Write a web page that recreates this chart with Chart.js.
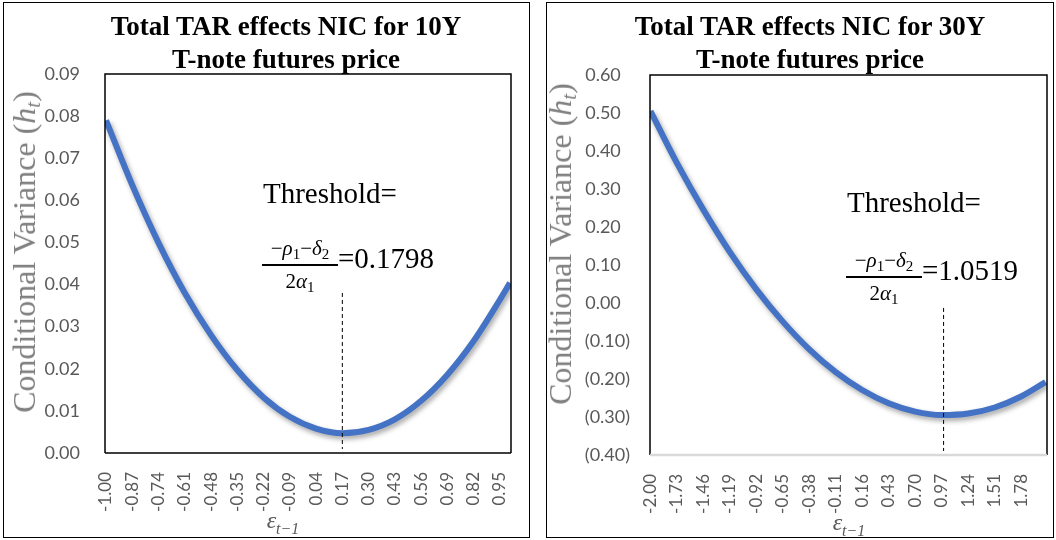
<!DOCTYPE html>
<html>
<head>
<meta charset="utf-8">
<script src="https://cdn.jsdelivr.net/npm/chart.js@4.4.1/dist/chart.umd.min.js"></script>
<style>
    body { margin: 0; width: 1056px; height: 540px; position: relative; background: #fff; overflow: hidden; }
    .panel { position: absolute; border: 1.5px solid #000; box-sizing: border-box; }
    canvas { position: absolute; top: 0; }
    .title { position: absolute; width: 500px; text-align: center; font: bold 27px "Liberation Serif", "Times New Roman", serif; line-height: 33px; color: #000; }
    .ytitle { position: absolute; transform: translate(-50%, -50%) rotate(-90deg); font: 32px "Liberation Serif", "Times New Roman", serif; color: #7f7f7f; white-space: nowrap; }
    .ytitle sub { font-size: 21px; vertical-align: -5px; }
    .xtitle { position: absolute; transform: translate(-50%, -50%); font: italic 24px "Liberation Serif", serif; color: #595959; white-space: nowrap; }
    .xtitle sub { font-size: 16px; vertical-align: -6px; }
    .note { position: absolute; font: 29px "Liberation Serif", serif; line-height: 29px; color: #000; white-space: nowrap; }
    .frac { position: absolute; width: 76px; font: 21px "Liberation Serif", serif; color: #000; text-align: center; white-space: nowrap; }
    .frac .num { line-height: 20px; border-bottom: 2px solid #000; }
    .frac .den { line-height: 30px; }
    .frac sub { font-size: 15px; vertical-align: -4px; }
</style>
</head>
<body>
<div class="panel" style="left:3px; top:2px; width:527px; height:536px;"></div>
<div class="panel" style="left:546px; top:2px; width:508px; height:536px;"></div>

<canvas id="chart10y" width="528" height="540" style="left:0;"></canvas>
<canvas id="chart30y" width="528" height="540" style="left:528px;"></canvas>

<div class="title" style="left:36px; top:10px;">Total TAR effects NIC for 10Y<br>T-note futures price</div>
<div class="title" style="left:560px; top:10px;">Total TAR effects NIC for 30Y<br>T-note futures price</div>

<div class="ytitle" style="left:26px; top:252px;">Conditional Variance (<i>h</i><sub><i>t</i></sub>)</div>
<div class="ytitle" style="left:562px; top:244px;">Conditional Variance (<i>h</i><sub><i>t</i></sub>)</div>

<div class="xtitle" style="left:283px; top:522px;">ε<sub>t−1</sub></div>
<div class="xtitle" style="left:849px; top:524px;">ε<sub>t−1</sub></div>

<div class="note" style="left:263px; top:179px;">Threshold=</div>
<div class="frac" style="left:262px; top:238px;"><div class="num">−<i>ρ</i><sub>1</sub>−<i>δ</i><sub>2</sub></div><div class="den">2<i>α</i><sub>1</sub></div></div>
<div class="note" style="left:338px; top:244px;">=0.1798</div>

<div class="note" style="left:847px; top:188px;">Threshold=</div>
<div class="frac" style="left:846px; top:250px;"><div class="num">−<i>ρ</i><sub>1</sub>−<i>δ</i><sub>2</sub></div><div class="den">2<i>α</i><sub>1</sub></div></div>
<div class="note" style="left:922px; top:256px;">=1.0519</div>

<script>
// 10Y panel: shock values and conditional variance
const shock10 = [-1.00, -0.87, -0.74, -0.61, -0.48, -0.35, -0.22, -0.09, 0.04, 0.17, 0.30, 0.43, 0.56, 0.69, 0.82, 0.95, 1.00];
const variance10 = [0.0790, 0.0636, 0.0499, 0.0380, 0.0280, 0.0197, 0.0132, 0.0086, 0.0058, 0.0047, 0.0055, 0.0080, 0.0124, 0.0186, 0.0266, 0.0364, 0.0404];
const xTicks10 = [-1.00, -0.87, -0.74, -0.61, -0.48, -0.35, -0.22, -0.09, 0.04, 0.17, 0.30, 0.43, 0.56, 0.69, 0.82, 0.95];
const yTicks10 = [0.00, 0.01, 0.02, 0.03, 0.04, 0.05, 0.06, 0.07, 0.08, 0.09];
const threshold10 = 0.17;
const dashTop10 = 0.038;

// 30Y panel
const shock30 = [-2.00, -1.73, -1.46, -1.19, -0.92, -0.65, -0.38, -0.11, 0.16, 0.43, 0.70, 0.97, 1.24, 1.51, 1.78, 2.03];
const variance30 = [0.505, 0.368, 0.245, 0.134, 0.036, -0.049, -0.122, -0.182, -0.229, -0.264, -0.286, -0.295, -0.291, -0.275, -0.246, -0.208];
const xTicks30 = [-2.00, -1.73, -1.46, -1.19, -0.92, -0.65, -0.38, -0.11, 0.16, 0.43, 0.70, 0.97, 1.24, 1.51, 1.78];
const yTicks30 = [-0.40, -0.30, -0.20, -0.10, 0.00, 0.10, 0.20, 0.30, 0.40, 0.50, 0.60];
const threshold30 = 0.99;
const dashTop30 = -0.013;

const plotFrame = {
    id: 'plotFrame',
    afterDraw(chart, args, opts) {
        const { ctx, chartArea: a } = chart;
        ctx.save();
        ctx.lineWidth = 1.5;
        ctx.strokeStyle = '#000';
        ctx.beginPath();
        ctx.moveTo(a.left, a.bottom);
        ctx.lineTo(a.left, a.top);
        ctx.lineTo(a.right, a.top);
        ctx.lineTo(a.right, a.bottom);
        ctx.stroke();
        ctx.strokeStyle = opts.bottomColor || '#000';
        ctx.lineWidth = opts.bottomWidth || 1.5;
        ctx.beginPath();
        ctx.moveTo(a.left, a.bottom);
        ctx.lineTo(a.right, a.bottom);
        ctx.stroke();
        ctx.restore();
    }
};

const thresholdLine = {
    id: 'thresholdLine',
    afterDatasetsDraw(chart, args, opts) {
        const { ctx, scales } = chart;
        const x = scales.x.getPixelForValue(opts.value);
        ctx.save();
        ctx.strokeStyle = '#000';
        ctx.lineWidth = 1;
        ctx.setLineDash([4, 3]);
        ctx.beginPath();
        ctx.moveTo(x, scales.y.getPixelForValue(opts.top));
        ctx.lineTo(x, chart.chartArea.bottom - 4);
        ctx.stroke();
        ctx.restore();
    }
};

const lineShadow = {
    id: 'lineShadow',
    beforeDatasetsDraw(chart) {
        const ctx = chart.ctx;
        ctx.save();
        ctx.shadowColor = 'rgba(0, 0, 0, 0.35)';
        ctx.shadowBlur = 5;
        ctx.shadowOffsetX = 2;
        ctx.shadowOffsetY = 3;
    },
    afterDatasetsDraw(chart) {
        chart.ctx.restore();
    }
};

function fmtParen(v) {
    if (Math.abs(v) < 1e-9) return '0.00  ';
    return v < 0 ? '(' + Math.abs(v).toFixed(2) + ')' : v.toFixed(2) + '  ';
}

function makeChart(id, cfg) {
    return new Chart(document.getElementById(id), {
        type: 'line',
        data: {
            datasets: [{
                data: cfg.xs.map((x, i) => ({ x: x, y: cfg.ys[i] })),
                borderColor: '#4472C4',
                borderWidth: 6,
                pointRadius: 0,
                fill: false,
                cubicInterpolationMode: 'monotone'
            }]
        },
        options: {
            responsive: false,
            animation: false,
            layout: { padding: cfg.padding },
            plugins: {
                legend: { display: false },
                tooltip: { enabled: false },
                plotFrame: { bottomColor: cfg.bottomColor, bottomWidth: cfg.bottomWidth },
                thresholdLine: { value: cfg.threshold, top: cfg.dashTop }
            },
            scales: {
                x: {
                    type: 'linear',
                    min: cfg.xMin,
                    max: cfg.xMax,
                    grid: { display: false, drawTicks: false },
                    border: { display: false },
                    afterBuildTicks: s => { s.ticks = cfg.xTicks.map(v => ({ value: v })); },
                    afterFit: s => {
                        s.height = cfg.xHeight;
                        s.paddingLeft = 0;
                        s.paddingRight = 0;
                    },
                    ticks: {
                        autoSkip: false,
                        minRotation: 90,
                        maxRotation: 90,
                        padding: 19,
                        color: '#595959',
                        font: { family: 'Lato', size: 17 },
                        callback: v => v.toFixed(2)
                    }
                },
                y: {
                    min: cfg.yMin,
                    max: cfg.yMax,
                    grid: { display: false, drawTicks: false },
                    border: { display: false },
                    afterBuildTicks: s => { s.ticks = cfg.yTicks.map(v => ({ value: v })); },
                    afterFit: s => {
                        s.width = cfg.yWidth;
                        s.paddingTop = 0;
                        s.paddingBottom = 0;
                    },
                    ticks: {
                        padding: cfg.yPad,
                        color: '#595959',
                        font: { family: 'Lato', size: 18 },
                        callback: cfg.yFormat
                    }
                }
            }
        },
        plugins: [lineShadow, thresholdLine, plotFrame]
    });
}

makeChart('chart10y', {
    xs: shock10, ys: variance10, xTicks: xTicks10, yTicks: yTicks10,
    xMin: -1.005, xMax: 1.005, yMin: 0, yMax: 0.09,
    padding: { top: 74, right: 17, left: 0, bottom: 0 },
    xHeight: 87, yWidth: 105, yPad: 25,
    yFormat: v => v.toFixed(2),
    threshold: threshold10, dashTop: dashTop10
});

makeChart('chart30y', {
    xs: shock30, ys: variance30, xTicks: xTicks30, yTicks: yTicks30,
    xMin: -2.005, xMax: 2.045, yMin: -0.4, yMax: 0.6,
    padding: { top: 75, right: 9, left: 0, bottom: 0 },
    xHeight: 85, yWidth: 122, yPad: 20,
    yFormat: fmtParen,
    bottomColor: '#d9d9d9', bottomWidth: 2.5,
    threshold: threshold30, dashTop: dashTop30
});
</script>
</body>
</html>
